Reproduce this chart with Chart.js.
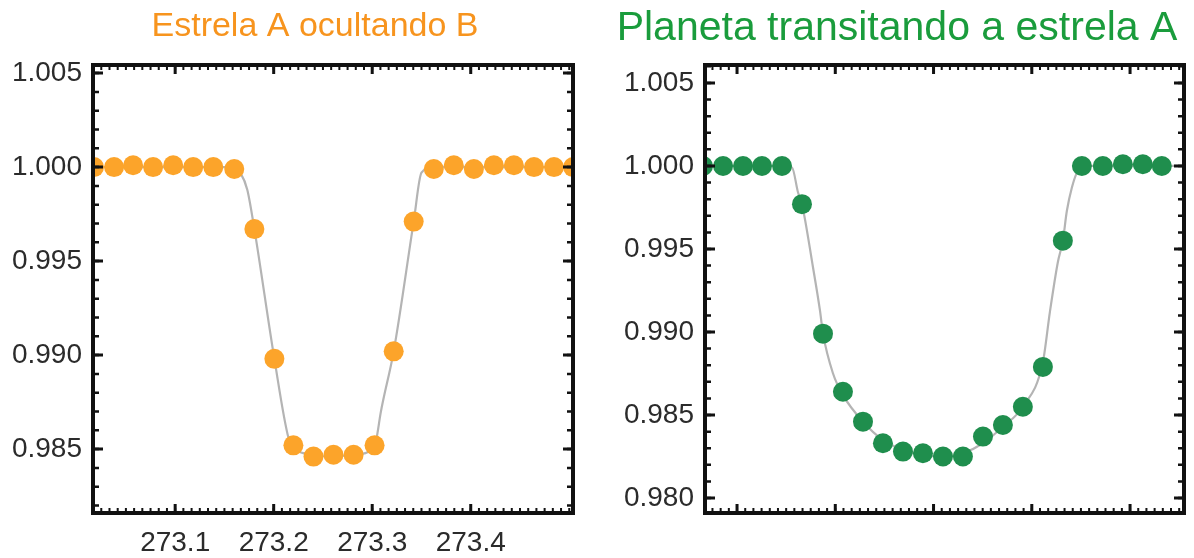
<!DOCTYPE html>
<html>
<head>
<meta charset="utf-8">
<script src="https://cdn.jsdelivr.net/npm/chart.js@4.4.0/dist/chart.umd.min.js"></script>
<style>
    html, body { margin: 0; padding: 0; background: #fff; }
    #wrap { position: relative; width: 1194px; height: 558px; overflow: hidden; }
    .panel { position: absolute; top: 0; height: 558px; }
    #panelA { left: 0; width: 630px; }
    #panelB { left: 600px; width: 594px; }
</style>
</head>
<body>
<div id="wrap">
    <div class="panel" id="panelA"><canvas id="chartA"></canvas></div>
    <div class="panel" id="panelB"><canvas id="chartB"></canvas></div>
</div>
<script>
// ─────────────────────────────────────────────
// DATA
// ─────────────────────────────────────────────

// Painel A: estrela A ocultando B
var timeA = [273.0176, 273.0380, 273.0573, 273.0776, 273.0980, 273.1183, 273.1387, 273.1600,
             273.1804, 273.2007, 273.2200, 273.2404, 273.2607, 273.2811, 273.3024, 273.3218,
             273.3421, 273.3625, 273.3828, 273.4032, 273.4235, 273.4438, 273.4642, 273.4845, 273.5039];
var fluxA = [1.0000, 1.0000, 1.0001, 1.0000, 1.0001, 1.0000, 1.0000, 0.9999,
             0.9967, 0.9898, 0.9852, 0.9846, 0.9847, 0.9847, 0.9852, 0.9902,
             0.9971, 0.9999, 1.0001, 0.9999, 1.0001, 1.0001, 1.0000, 1.0000, 1.0000];
var modelTimeA = [273.0166, 273.1600, 273.1661, 273.1732, 273.1804, 273.2007, 273.2150, 273.2200,
                  273.2404, 273.2607, 273.2811, 273.3024, 273.3055, 273.3085, 273.3218, 273.3421,
                  273.3500, 273.3625, 273.5038];
var modelFluxA = [1.0000, 1.0000, 0.9997, 0.9988, 0.9967, 0.9898, 0.9856, 0.9851,
                  0.9847, 0.9846, 0.9847, 0.9851, 0.9859, 0.9869, 0.9902, 0.9971,
                  0.9997, 1.0000, 1.0000];
var xRangeA = [273.0166, 273.5038];
var yRangeA = [0.9816, 1.00543];
var xTicksA = [273.1, 273.2, 273.3, 273.4];
var yTicksA = [0.985, 0.990, 0.995, 1.000, 1.005];

// Painel B: planeta transitando a estrela A
var timeB = [0.0654, 0.0858, 0.1061, 0.1254, 0.1458, 0.1661, 0.1875, 0.2078,
             0.2282, 0.2485, 0.2689, 0.2892, 0.3096, 0.3299, 0.3503, 0.3706,
             0.3909, 0.4113, 0.4316, 0.4510, 0.4723, 0.4927, 0.5130, 0.5323];
var fluxB = [1.0000, 1.0000, 1.0000, 1.0000, 1.0000, 0.9977, 0.9899, 0.9864,
             0.9846, 0.9833, 0.9828, 0.9827, 0.9825, 0.9825, 0.9837, 0.9844,
             0.9855, 0.9879, 0.9955, 1.0000, 1.0000, 1.0001, 1.0001, 1.0000];
var modelTimeB = [0.0674, 0.1458, 0.1560, 0.1621, 0.1661, 0.1773, 0.1844, 0.1875,
                  0.1977, 0.2078, 0.2282, 0.2485, 0.2689, 0.2892, 0.3096, 0.3299,
                  0.3503, 0.3706, 0.3909, 0.4113, 0.4184, 0.4265, 0.4316, 0.4357,
                  0.4408, 0.4459, 0.4510, 0.5549];
var modelFluxB = [1.0000, 1.0000, 0.9999, 0.9984, 0.9977, 0.9939, 0.9913, 0.9899,
                  0.9875, 0.9862, 0.9846, 0.9835, 0.9829, 0.9826, 0.9825, 0.9827,
                  0.9833, 0.9843, 0.9855, 0.9882, 0.9912, 0.9942, 0.9955, 0.9973,
                  0.9987, 0.9996, 1.0000, 1.0000];
var xRangeB = [0.0674, 0.5549];
var yRangeB = [0.9791, 1.00608];
var xTicksB = [0.1, 0.2, 0.3, 0.4, 0.5];
var yTicksB = [0.980, 0.985, 0.990, 0.995, 1.000, 1.005];

var FONT = "'Liberation Sans', Arial, Helvetica, sans-serif";

// ─────────────────────────────────────────────
// HELPERS
// ─────────────────────────────────────────────
function toXY(xs, ys) {
    return xs.map(function (x, i) { return { x: x, y: ys[i] }; });
}

// frame with inward major/minor ticks on all four sides
var framePlugin = {
    id: 'frame',
    afterDatasetsDraw: function (chart, args, opts) {
        var ctx = chart.ctx, a = chart.chartArea;
        var xs = chart.scales.x, ys = chart.scales.y;
        ctx.save();
        ctx.strokeStyle = '#111';
        ctx.lineCap = 'butt';

        function xTick(v, len, w) {
            var px = xs.getPixelForValue(v);
            ctx.lineWidth = w;
            ctx.beginPath();
            ctx.moveTo(px, a.bottom); ctx.lineTo(px, a.bottom - len);
            ctx.moveTo(px, a.top); ctx.lineTo(px, a.top + len);
            ctx.stroke();
        }
        function yTick(v, len, w) {
            var py = ys.getPixelForValue(v);
            ctx.lineWidth = w;
            ctx.beginPath();
            ctx.moveTo(a.left, py); ctx.lineTo(a.left + len, py);
            ctx.moveTo(a.right, py); ctx.lineTo(a.right - len, py);
            ctx.stroke();
        }

        var i;
        var x0 = Math.ceil(xs.min / opts.xMinor);
        for (i = x0; i * opts.xMinor <= xs.max; i++) xTick(i * opts.xMinor, 5, 2);
        var y0 = Math.ceil(ys.min / opts.yMinor);
        for (i = y0; i * opts.yMinor <= ys.max; i++) yTick(i * opts.yMinor, 6, 2.5);
        opts.xMajor.forEach(function (v) { xTick(v, 9, 3); });
        opts.yMajor.forEach(function (v) { yTick(v, 10, 3); });

        ctx.lineWidth = 4;
        ctx.strokeRect(a.left, a.top, a.right - a.left, a.bottom - a.top);
        ctx.restore();
    }
};

function makePanel(id, cfg) {
    return new Chart(document.getElementById(id), {
        type: 'scatter',
        data: {
            datasets: [{
                label: 'dados',
                data: toXY(cfg.time, cfg.flux),
                pointRadius: 10,
                pointHoverRadius: 10,
                backgroundColor: cfg.color,
                borderWidth: 0,
                showLine: false,
                clip: 0
            }, {
                label: 'modelo',
                data: toXY(cfg.modelTime, cfg.modelFlux),
                showLine: true,
                pointRadius: 0,
                borderColor: '#b4b4b4',
                borderWidth: 2.2,
                cubicInterpolationMode: 'monotone',
                clip: 0
            }]
        },
        options: {
            responsive: true,
            maintainAspectRatio: false,
            animation: false,
            layout: { padding: 0 },
            plugins: {
                legend: { display: false },
                tooltip: { enabled: false },
                title: {
                    display: true,
                    text: cfg.title,
                    color: cfg.titleColor,
                    font: { family: FONT, size: cfg.titleSize, weight: 'normal', lineHeight: 1.2 },
                    padding: { top: cfg.titleY - cfg.titleSize * 0.6, bottom: 65 - cfg.titleY - cfg.titleSize * 0.6 }
                },
                frame: { xMinor: 0.1 / 12, yMinor: 0.001, xMajor: cfg.xTicks, yMajor: cfg.yTicks }
            },
            scales: {
                x: {
                    type: 'linear',
                    min: cfg.xRange[0],
                    max: cfg.xRange[1],
                    grid: { display: false, drawTicks: false },
                    border: { display: false },
                    afterBuildTicks: function (s) { s.ticks = cfg.xTicks.map(function (v) { return { value: v }; }); },
                    afterFit: function (s) { s.height = 45; },
                    ticks: {
                        display: cfg.showX,
                        padding: 13,
                        color: '#2b2b2b',
                        font: { family: FONT, size: 28 },
                        callback: function (v) { return v.toFixed(1); }
                    }
                },
                y: {
                    min: cfg.yRange[0],
                    max: cfg.yRange[1],
                    grid: { display: false, drawTicks: false },
                    border: { display: false },
                    afterBuildTicks: function (s) { s.ticks = cfg.yTicks.map(function (v) { return { value: v }; }); },
                    afterFit: function (s) { s.width = cfg.yWidth; },
                    ticks: {
                        padding: 11,
                        color: '#2b2b2b',
                        font: { family: FONT, size: 28 },
                        callback: function (v) { return v.toFixed(3); }
                    }
                },
                // empty right-hand axis, only reserves room so the title stays centred on the canvas
                yRight: {
                    position: 'right',
                    min: cfg.yRange[0],
                    max: cfg.yRange[1],
                    grid: { display: false, drawTicks: false },
                    border: { display: false },
                    ticks: { display: false },
                    afterFit: function (s) { s.width = cfg.padRight; }
                }
            }
        },
        plugins: [framePlugin]
    });
}

// ─────────────────────────────────────────────
// RENDER
// ─────────────────────────────────────────────
makePanel('chartA', {
    time: timeA, flux: fluxA, modelTime: modelTimeA, modelFlux: modelFluxA,
    xRange: xRangeA, yRange: yRangeA, xTicks: xTicksA, yTicks: yTicksA,
    color: '#fca42a', title: 'Estrela A ocultando B', titleColor: '#f7941e',
    titleSize: 34, titleY: 27,
    showX: true, padRight: 57, yWidth: 93
});

makePanel('chartB', {
    time: timeB, flux: fluxB, modelTime: modelTimeB, modelFlux: modelFluxB,
    xRange: xRangeB, yRange: yRangeB, xTicks: xTicksB, yTicks: yTicksB,
    color: '#1f8e4d', title: 'Planeta transitando a estrela A', titleColor: '#1a9c3c',
    titleSize: 41, titleY: 29,
    showX: false, padRight: 10, yWidth: 105
});
</script>
</body>
</html>
